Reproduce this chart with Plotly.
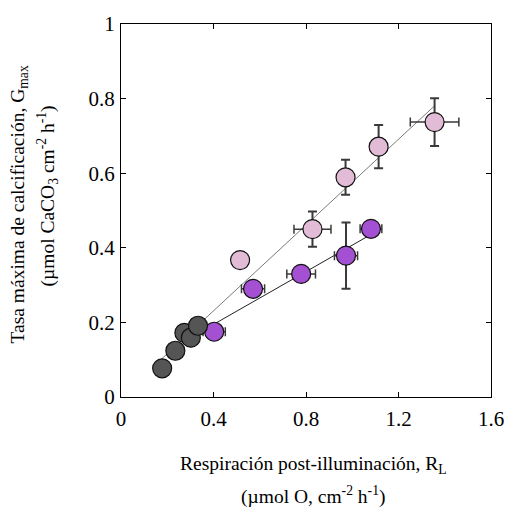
import plotly.graph_objects as go

# Respiración post-iluminación (x) vs. tasa máxima de calcificación (y)
dark_x = [0.178, 0.235, 0.274, 0.302, 0.333]
dark_y = [0.077, 0.124, 0.172, 0.159, 0.191]

pink_x = [0.515, 0.828, 0.971, 1.114, 1.356]
pink_y = [0.367, 0.450, 0.589, 0.671, 0.737]
pink_xerr = [0.0, 0.080, 0.0, 0.0, 0.105]
pink_yerr = [0.015, 0.047, 0.047, 0.058, 0.064]

purple_x = [0.403, 0.571, 0.779, 0.973, 1.081]
purple_y = [0.175, 0.290, 0.330, 0.379, 0.451]
purple_xerr = [0.048, 0.050, 0.062, 0.050, 0.047]
purple_yerr = [0.0, 0.0, 0.0, 0.089, 0.0]

# Regression lines: [intercept, slope] and x-range
pink_fit = [0.001, 0.575]
pink_fit_range = [0.171, 1.356]
purple_fit = [0.053, 0.354]
purple_fit_range = [0.333, 1.081]

x_ticks = [0, 0.4, 0.8, 1.2, 1.6]
x_ticklabels = ["0", "0.4", "0.8", "1.2", "1.6"]
y_ticks = [0, 0.2, 0.4, 0.6, 0.8, 1.0]
y_ticklabels = ["0", "0.2", "0.4", "0.6", "0.8", "1"]

FONT = "Liberation Serif, Times New Roman, serif"
ERR_COLOR = "#3a3a3a"

fig = go.Figure()


def fit_line(coef, xr, color, width):
    xs = list(xr)
    ys = [coef[0] + coef[1] * v for v in xs]
    fig.add_trace(go.Scatter(x=xs, y=ys, mode="lines",
                             line=dict(color=color, width=width),
                             hoverinfo="skip", showlegend=False))


fit_line(pink_fit, pink_fit_range, "#7a7a7a", 1)
fit_line(purple_fit, purple_fit_range, "#222222", 1)


def err(vals, thick):
    return dict(type="data", array=vals, visible=True, color=ERR_COLOR,
                thickness=thick, width=4.5)


fig.add_trace(go.Scatter(
    x=pink_x, y=pink_y, mode="markers",
    error_x=err(pink_xerr, 1.5), error_y=err(pink_yerr, 2),
    marker=dict(size=19, color="#e2bcd6", line=dict(color="#111111", width=1.2)),
    showlegend=False))

fig.add_trace(go.Scatter(
    x=purple_x, y=purple_y, mode="markers",
    error_x=err(purple_xerr, 1.5), error_y=err(purple_yerr, 2),
    marker=dict(size=19, color="#a450d2", line=dict(color="#111111", width=1.2)),
    showlegend=False))

fig.add_trace(go.Scatter(
    x=dark_x, y=dark_y, mode="markers",
    marker=dict(size=19, color="#555555", line=dict(color="#111111", width=1.2)),
    showlegend=False))

axis_common = dict(
    showline=True, linecolor="black", linewidth=1.2, mirror="ticks",
    ticks="inside", ticklen=5, tickwidth=1, tickcolor="black",
    showgrid=False, zeroline=False,
    tickfont=dict(family=FONT, size=21, color="black"),
)

fig.update_xaxes(range=[0, 1.6], tickvals=x_ticks, ticktext=x_ticklabels,
                 ticklabelstandoff=3, **axis_common)
fig.update_yaxes(range=[0, 1.0], tickvals=y_ticks, ticktext=y_ticklabels,
                 ticklabelstandoff=1, **axis_common)

title_font = dict(family=FONT, size=19.5, color="black")
annotations = [
    dict(text="Respiración post-illuminación, R<sub>L</sub>", xref="paper", yref="paper",
         x=0.5, y=0, xanchor="center", yanchor="middle", xshift=7, yshift=-68,
         showarrow=False, font=title_font),
    dict(text="(µmol O, cm<sup>-2</sup> h<sup>-1</sup>)", xref="paper", yref="paper",
         x=0.5, y=0, xanchor="center", yanchor="middle", xshift=7, yshift=-98,
         showarrow=False, font=title_font),
    dict(text="Tasa máxima de calcificación, G<sub>max</sub>", xref="paper", yref="paper",
         x=0, y=0.5, xanchor="center", yanchor="middle", xshift=-103, yshift=6,
         textangle=-90, showarrow=False, font=title_font),
    dict(text="(µmol CaCO<sub>3</sub> cm<sup>-2</sup> h<sup>-1</sup>)", xref="paper", yref="paper",
         x=0, y=0.5, xanchor="center", yanchor="middle", xshift=-74, yshift=14,
         textangle=-90, showarrow=False, font=title_font),
]

fig.update_layout(
    width=516, height=511,
    margin=dict(l=121, r=15, t=21, b=114),
    paper_bgcolor="white", plot_bgcolor="white",
    font=dict(family=FONT, color="black"),
    annotations=annotations,
    showlegend=False,
)

fig.write_html("out.html")
